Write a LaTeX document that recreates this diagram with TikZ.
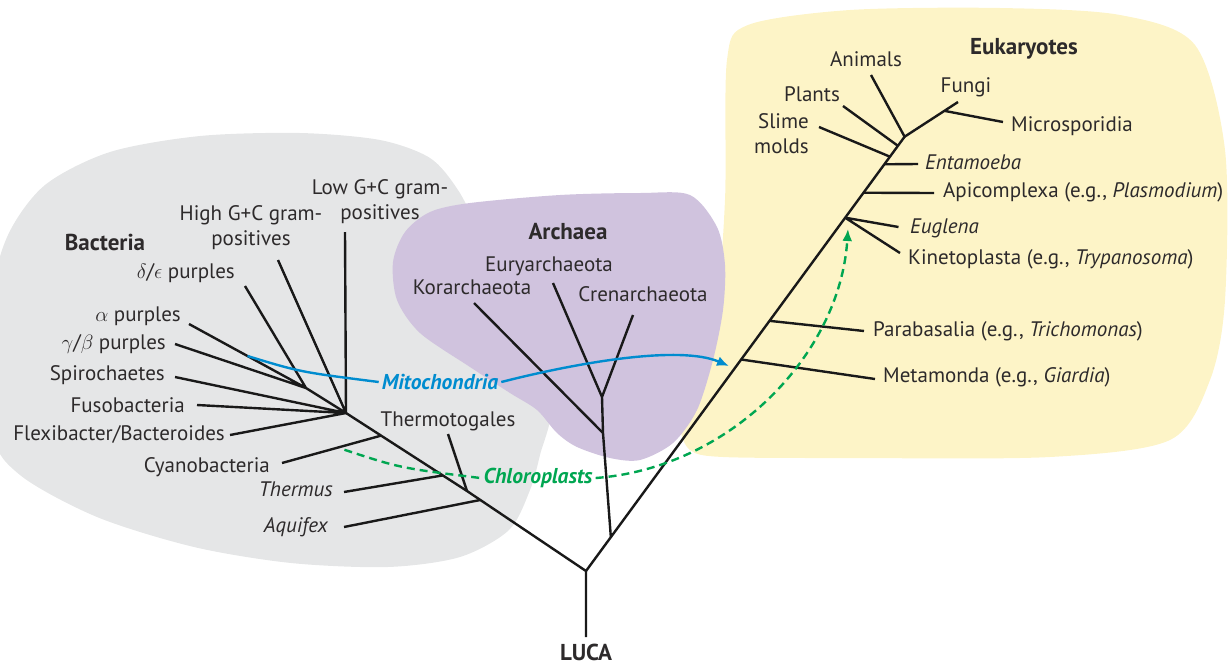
\documentclass[tikz,border=0pt]{standalone}
\usepackage{fontspec}
\setmainfont{PT Sans}
\usepackage{tikz}
\usetikzlibrary{arrows.meta,positioning,calc}
\definecolor{treeblue}{RGB}{0,140,207}
\definecolor{treegreen}{RGB}{0,166,81}
\definecolor{treetext}{RGB}{45,42,43}
\definecolor{bactgray}{RGB}{229,230,231}
\definecolor{archpurple}{RGB}{208,195,222}
\definecolor{eukyellow}{RGB}{253,244,199}
\tikzset{
  taxon/.style={font=\fontsize{21}{25}\selectfont, text=treetext, inner sep=0pt,
    text height=13pt, text depth=4pt},
  taxonit/.style={taxon, font=\fontsize{21}{25}\selectfont\itshape},
  taxonwrap/.style={font=\fontsize{21}{25}\selectfont, text=treetext, inner sep=0pt},
  groupname/.style={taxon, font=\fontsize{23}{25}\selectfont\bfseries},
  branch/.style={line width=2.4pt, draw=black!90},
  mitoflow/.style={-{Latex[length=12pt,width=10pt]}, line width=2.4pt, draw=treeblue},
  chloroflow/.style={-{Latex[length=12pt,width=10pt]}, line width=2.4pt, draw=treegreen,
    dash pattern=on 8pt off 5pt},
  flowlabel/.style={font=\fontsize{21.5}{25}\selectfont\bfseries\itshape, inner sep=3pt}
}

\begin{document}
\begin{tikzpicture}[x=1pt, y=-1pt]
  \useasboundingbox (0,0) rectangle (1232,665);
  % the three domains
  \fill[bactgray] plot[smooth cycle] coordinates {(-8,300) (8,235) (45,185) (110,152)
    (200,136) (300,133) (380,140) (430,158) (458,190) (485,240) (530,310) (552,400)
    (540,455) (530,490) (509,530) (460,557) (388,567) (291,563) (194,547) (97,517)
    (20,475) (-8,430)};
  \fill[eukyellow] plot[smooth cycle] coordinates {(727,60) (748,25) (850,10) (1000,8)
    (1120,15) (1195,45) (1225,150) (1225,300) (1210,380) (1170,440) (1050,457) (850,458)
    (723,457) (690,450) (680,425) (690,390) (715,320) (725,200)};
  \fill[archpurple] plot[smooth cycle] coordinates {(470,203) (560,195) (640,193)
    (690,195) (717,227) (725,265) (723,310) (713,360) (697,410) (673,443) (640,460)
    (610,458) (577,447) (557,433) (537,410) (510,393) (470,367) (420,333) (397,300)
    (393,262) (405,232) (430,212)};

  % group names
  \node[groupname] (bacteria) at (105,246) {Bacteria};
  \node[groupname] (archaea) at (568,235) {Archaea};
  \node[groupname] (eukaryotes) at (1024,50) {Eukaryotes};

  % backbone
  \coordinate (base) at (586,637);
  \coordinate (root) at (586,571);
  \coordinate (thermJ) at (467,491);
  \coordinate (hub) at (346,413);
  \coordinate (proteo) at (306,388);
  \coordinate (eukTop) at (904.6,136.7);
  \coordinate (archJ) at ($(root)!0.078!(eukTop)$);
  \coordinate (korJ) at (603,433);
  \coordinate (crenJ) at (602,397);
  \node[groupname] (luca) at (586,656) {LUCA};
  \draw[branch] (base) -- (root) -- (thermJ) -- (hub);
  \draw[branch] (root) -- (eukTop);
  \draw[branch] (archJ) -- (korJ) -- (crenJ);

  % bacteria
  \coordinate (aqJ) at ($(root)!0.888!(thermJ)$);
  \coordinate (thJ) at ($(thermJ)!0.2!(hub)$);
  \coordinate (cyJ) at ($(thermJ)!0.71!(hub)$);
  \coordinate (aquifexTip) at (344,527);
  \coordinate (thermusTip) at (344,492);
  \coordinate (thermoTip) at (448,434);
  \coordinate (cyanoTip) at (282,463);
  \coordinate (flexiTip) at (230,435);
  \coordinate (fusoTip) at (197,405);
  \coordinate (spiroTip) at (175,377);
  \coordinate (gbTip) at (175,344);
  \coordinate (alphaTip) at (189,324);
  \coordinate (deltaTip) at (245,286);
  \coordinate (highTip) at (278,260);
  \coordinate (lowTip) at (345,232);
  \node[taxonit, anchor=east] (aquifex) at (328,528) {Aquifex};
  \node[taxonit, anchor=east] (thermus) at (333,492) {Thermus};
  \node[taxon] (thermo) at (448,422) {Thermotogales};
  \node[taxon, anchor=east] (cyano) at (270,468) {Cyanobacteria};
  \node[taxon, anchor=east] (flexi) at (225,436) {Flexibacter/Bacteroides};
  \node[taxon, anchor=east] (fuso) at (185,408) {Fusobacteria};
  \node[taxon, anchor=east] (spiro) at (165,376) {Spirochaetes};
  \node[taxon, anchor=east] (gammabeta) at (166,345) {$\gamma$/$\beta$ purples};
  \node[taxon, anchor=east] (alpha) at (181,317) {$\alpha$ purples};
  \node[taxon, anchor=east] (delta) at (235,274) {$\delta$/$\epsilon$ purples};
  \node[taxonwrap, align=center] (highgc) at (251,228) {High G+C gram-\\positives};
  \node[taxonwrap, align=center] (lowgc) at (380,202) {Low G+C gram-\\positives};
  \draw[branch] (aquifexTip) -- (aqJ) (thermusTip) -- (thJ) (thermoTip) -- (thermJ)
    (cyanoTip) -- (cyJ) (flexiTip) -- (hub) (fusoTip) -- (hub) (spiroTip) -- (hub)
    (gbTip) -- (proteo) (alphaTip) -- (proteo) (deltaTip) -- (proteo) (proteo) -- (hub)
    (highTip) -- (hub) (lowTip) -- (hub);

  % archaea
  \coordinate (korTip) at (474,303);
  \coordinate (euryTip) at (553,283);
  \coordinate (crenTip) at (633,315);
  \node[taxon] (kor) at (472,290) {Korarchaeota};
  \node[taxon] (eury) at (549,267) {Euryarchaeota};
  \node[taxon] (cren) at (643,297) {Crenarchaeota};
  \draw[branch] (korTip) -- (korJ) (euryTip) -- (crenJ) (crenTip) -- (crenJ);

  % eukaryotes
  \coordinate (metaJ) at ($(root)!0.487!(eukTop)$);
  \coordinate (paraJ) at ($(root)!0.576!(eukTop)$);
  \coordinate (euglJ) at ($(root)!0.8135!(eukTop)$);
  \coordinate (apiJ) at ($(root)!0.871!(eukTop)$);
  \coordinate (entJ) at ($(root)!0.9365!(eukTop)$);
  \coordinate (slimeJ) at ($(root)!0.954!(eukTop)$);
  \coordinate (plantJ) at ($(root)!0.979!(eukTop)$);
  \coordinate (fungiTip) at (958,102);
  \coordinate (microJ) at ($(eukTop)!0.745!(fungiTip)$);
  \coordinate (animalTip) at (871,75);
  \coordinate (microTip) at (1003,122);
  \coordinate (plantTip) at (843,106);
  \coordinate (slimeTip) at (819,127);
  \coordinate (entTip) at (918,164);
  \coordinate (apiTip) at (934,193);
  \coordinate (eugTip) at (898.5,227);
  \coordinate (kinTip) at (900,253);
  \coordinate (paraTip) at (864,331);
  \coordinate (metaTip) at (875,379);
  \node[taxon] (animals) at (866,62) {Animals};
  \node[taxon] (fungi) at (966,88) {Fungi};
  \node[taxon] (plants) at (812,97) {Plants};
  \node[taxonwrap, align=right, anchor=east] (slime) at (809,134) {Slime\\molds};
  \node[taxon, anchor=west] (micro) at (1011,127) {Microsporidia};
  \node[taxonit, anchor=west] (ent) at (925,165) {Entamoeba};
  \node[taxon, anchor=west] (api) at (943,193) {Apicomplexa (e.g., \textit{Plasmodium})};
  \node[taxonit, anchor=west] (eug) at (910,229) {Euglena};
  \node[taxon, anchor=west] (kin) at (908,260) {Kinetoplasta (e.g., \textit{Trypanosoma})};
  \node[taxon, anchor=west] (para) at (873,332) {Parabasalia (e.g., \textit{Trichomonas})};
  \node[taxon, anchor=west] (meta) at (883,378) {Metamonda (e.g., \textit{Giardia})};
  \draw[branch] (animalTip) -- (eukTop) -- (fungiTip) (microJ) -- (microTip)
    (plantTip) -- (plantJ) (slimeTip) -- (slimeJ) (entJ) -- (entTip) (apiJ) -- (apiTip)
    (euglJ) -- (eugTip) (euglJ) -- (kinTip) (paraJ) -- (paraTip) (metaJ) -- (metaTip);

  % endosymbiosis
  \coordinate (mitoStart) at ($(alphaTip)!0.5!(proteo)$);
  \coordinate (mitoEnd) at (729,366);
  \coordinate (chloroStart) at ($(cyanoTip)!0.63!(cyJ)+(0,4)$);
  \coordinate (chloroEnd) at (848,229);
  \node[flowlabel, text=treeblue] (mito) at (440,382) {Mitochondria};
  \node[flowlabel, text=treegreen] (chloro) at (538,478) {Chloroplasts};
  \draw[mitoflow, -] (mitoStart) .. controls (300,372) .. (mito.west);
  \draw[mitoflow] (mito.east) .. controls (580,362) and (680,345) .. (mitoEnd);
  \draw[chloroflow, -] (chloroStart) .. controls (400,468) .. (chloro.west);
  \draw[chloroflow] (chloro.east) .. controls (730,468) and (840,355) .. (chloroEnd);
\end{tikzpicture}
\end{document}
